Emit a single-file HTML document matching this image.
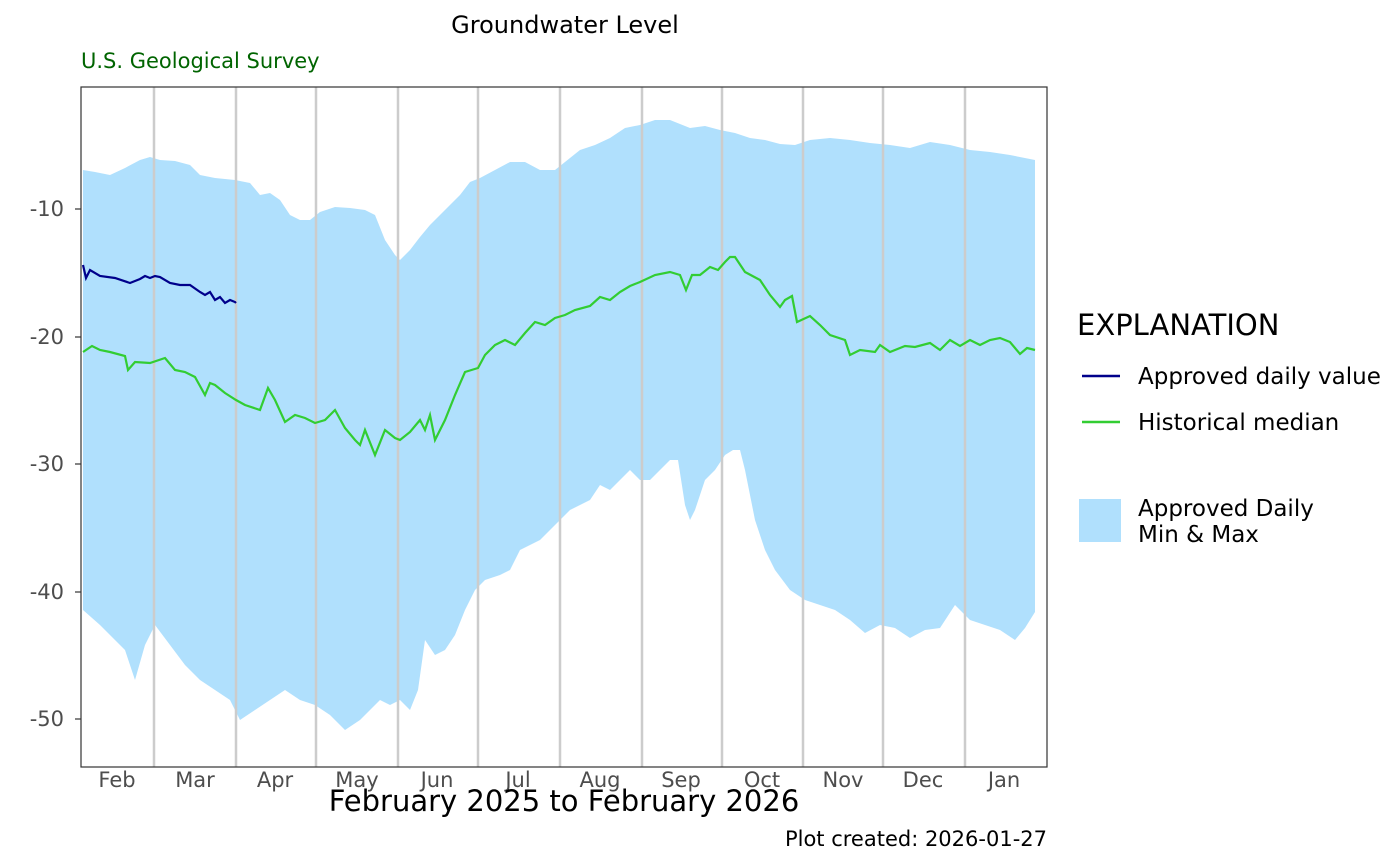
<!DOCTYPE html>
<html><head><meta charset="utf-8"><style>
body{margin:0;background:#fff;}
svg{display:block;font-family:"DejaVu Sans","Liberation Sans",sans-serif;}
</style></head><body>
<svg width="1400" height="866" xmlns="http://www.w3.org/2000/svg">
<rect width="1400" height="866" fill="#fff"/>
<text x="565" y="33" font-size="24" text-anchor="middle" fill="#000">Groundwater Level</text>
<text x="81" y="68" font-size="21" fill="#006400">U.S. Geological Survey</text>
<polygon fill="#b0e0fd" points="83,170 95,172 110,175 125,168 140,160 150,157 160,160 175,161 190,165 200,175 215,178 235,180 250,183 260,195 270,193 280,200 290,215 300,220 310,220 320,212 335,207 350,208 365,210 375,215 385,240 395,255 400,260 410,250 420,237 430,225 440,215 450,205 460,195 470,182 480,178 495,170 510,162 525,162 540,170 555,170 565,162 580,150 595,145 610,138 625,128 640,125 655,120 670,120 690,128 705,126 720,130 735,133 750,138 765,140 780,144 795,145 810,140 830,138 850,140 870,143 890,145 910,148 930,142 950,145 970,150 990,152 1010,155 1035,160 1035,612 1025,628 1015,640 1000,630 985,625 970,620 955,605 940,628 925,630 910,638 895,628 880,625 865,633 850,620 835,610 820,605 805,600 790,590 775,570 765,550 755,520 745,470 740,450 733,450 725,455 715,470 705,480 695,510 690,520 685,505 678,460 670,460 660,470 650,480 640,480 630,470 620,480 610,490 600,485 590,500 580,505 570,510 560,520 550,530 540,540 530,545 520,550 510,570 500,575 485,580 475,590 465,610 455,635 445,650 435,655 425,640 418,690 410,710 400,700 390,705 380,700 370,710 360,720 345,730 330,715 315,705 300,700 285,690 270,700 255,710 240,720 230,700 215,690 200,680 185,665 170,645 155,625 145,645 135,680 125,650 115,640 100,625 83,610"/>
<g stroke="#cccccc" stroke-width="2.5">
<line x1="154" y1="87" x2="154" y2="767"/><line x1="236" y1="87" x2="236" y2="767"/><line x1="316" y1="87" x2="316" y2="767"/><line x1="398" y1="87" x2="398" y2="767"/><line x1="478" y1="87" x2="478" y2="767"/><line x1="560" y1="87" x2="560" y2="767"/><line x1="642" y1="87" x2="642" y2="767"/><line x1="722" y1="87" x2="722" y2="767"/><line x1="803" y1="87" x2="803" y2="767"/><line x1="883" y1="87" x2="883" y2="767"/><line x1="965" y1="87" x2="965" y2="767"/>
</g>
<polyline fill="none" stroke="#32cd32" stroke-width="2.2" points="83,352 92,346 100,350 110,352 125,356 128,370 135,362 150,363 165,358 175,370 185,372 195,377 205,395 210,383 215,385 225,393 236,400 245,405 260,410 268,388 275,400 285,422 295,415 305,418 315,423 325,420 335,410 345,428 355,440 360,445 365,430 375,455 385,430 395,438 400,440 410,432 420,420 425,430 430,415 435,440 445,420 455,395 465,372 478,368 485,355 495,345 505,340 515,345 525,333 535,322 545,325 555,318 565,315 575,310 590,306 600,297 610,300 620,292 630,286 640,282 655,275 670,272 680,275 686,290 692,275 700,275 710,267 718,270 725,262 730,257 735,257 745,272 760,280 770,295 780,307 785,300 792,296 797,322 810,316 820,325 830,335 845,340 850,355 860,350 875,352 880,345 890,352 905,346 915,347 930,343 940,350 950,340 960,346 970,340 980,345 990,340 1000,338 1010,342 1020,354 1027,348 1035,350"/>
<polyline fill="none" stroke="#00008b" stroke-width="2.2" points="83,265 86,278 90,270 100,276 115,278 130,283 140,279 145,276 150,278 155,276 160,277 170,283 180,285 190,285 200,292 205,295 210,292 215,300 220,297 225,303 230,300 235,302 236,303"/>
<rect x="81" y="87" width="966" height="680" fill="none" stroke="#333" stroke-width="1.2"/>
<g font-size="21" fill="#4d4d4d" text-anchor="end">
<text x="64" y="216">-10</text><text x="64" y="344">-20</text><text x="64" y="471">-30</text><text x="64" y="599">-40</text><text x="64" y="726">-50</text>
</g>
<g stroke="#333" stroke-width="1.2"><line x1="75" y1="209" x2="81" y2="209"/><line x1="75" y1="337" x2="81" y2="337"/><line x1="75" y1="464" x2="81" y2="464"/><line x1="75" y1="592" x2="81" y2="592"/><line x1="75" y1="719" x2="81" y2="719"/></g>
<g font-size="21" fill="#4d4d4d" text-anchor="middle">
<text x="117" y="787">Feb</text><text x="195" y="787">Mar</text><text x="275" y="787">Apr</text><text x="357" y="787">May</text><text x="437" y="787">Jun</text><text x="518" y="787">Jul</text><text x="600" y="787">Aug</text><text x="681" y="787">Sep</text><text x="762" y="787">Oct</text><text x="843" y="787">Nov</text><text x="923" y="787">Dec</text><text x="1004" y="787">Jan</text>
</g>
<text x="564" y="811" font-size="29" text-anchor="middle" fill="#000">February 2025 to February 2026</text>
<text x="1047" y="846" font-size="21" text-anchor="end" fill="#000">Plot created: 2026-01-27</text>
<text x="1077" y="335" font-size="29" fill="#000">EXPLANATION</text>
<line x1="1082" y1="376" x2="1120" y2="376" stroke="#00008b" stroke-width="2.5"/>
<text x="1138" y="384" font-size="23" fill="#000">Approved daily value</text>
<line x1="1082" y1="422" x2="1120" y2="422" stroke="#32cd32" stroke-width="2.5"/>
<text x="1138" y="430" font-size="23" fill="#000">Historical median</text>
<rect x="1079" y="499" width="42" height="43" fill="#b0e0fd"/>
<text x="1138" y="516" font-size="23" fill="#000">Approved Daily</text>
<text x="1138" y="542" font-size="23" fill="#000">Min &amp; Max</text>
</svg>
</body></html>
